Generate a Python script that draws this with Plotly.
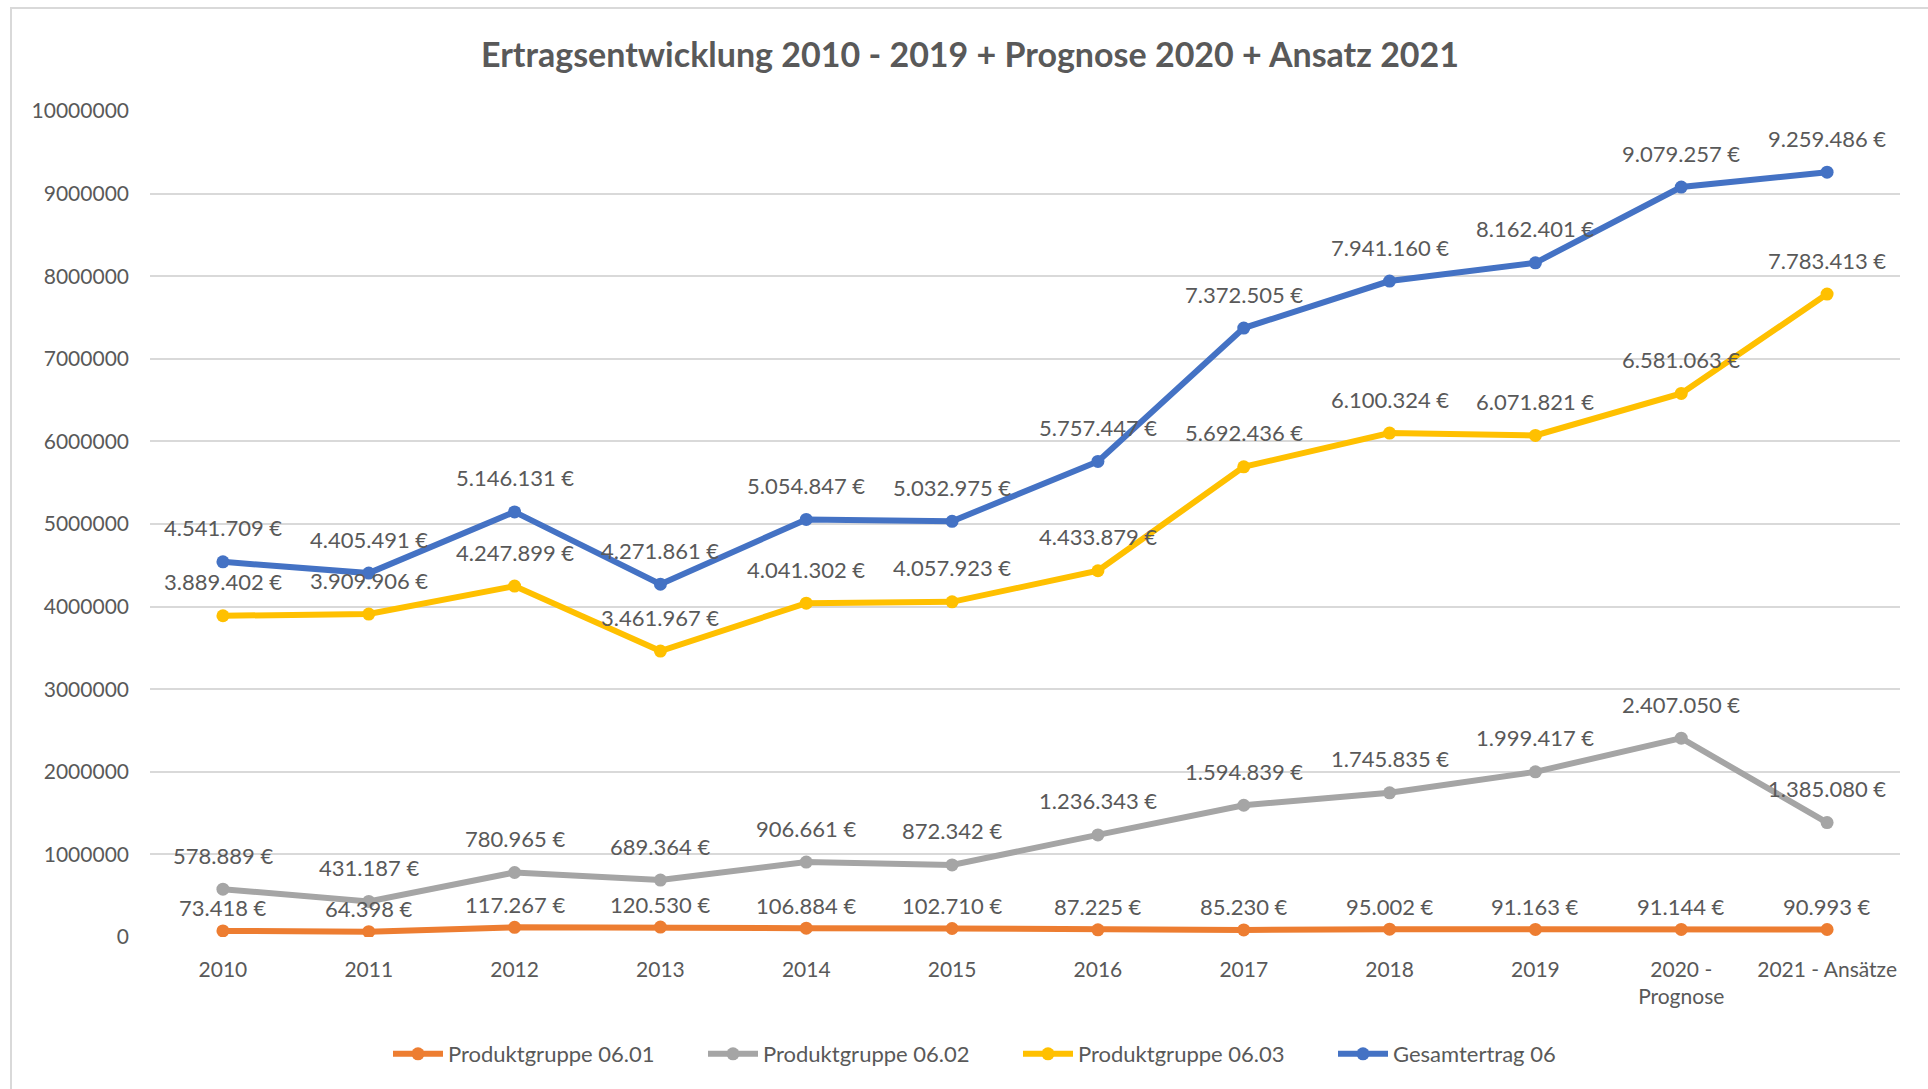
import plotly.graph_objects as go

categories = ["2010", "2011", "2012", "2013", "2014", "2015", "2016", "2017",
              "2018", "2019", "2020 -<br>Prognose", "2021 - Ansätze"]

pg_0601 = [73418, 64398, 117267, 120530, 106884, 102710, 87225, 85230,
           95002, 91163, 91144, 90993]
pg_0602 = [578889, 431187, 780965, 689364, 906661, 872342, 1236343, 1594839,
           1745835, 1999417, 2407050, 1385080]
pg_0603 = [3889402, 3909906, 4247899, 3461967, 4041302, 4057923, 4433879,
           5692436, 6100324, 6071821, 6581063, 7783413]
gesamt_06 = [4541709, 4405491, 5146131, 4271861, 5054847, 5032975, 5757447,
             7372505, 7941160, 8162401, 9079257, 9259486]

series_names = ["Produktgruppe 06.01", "Produktgruppe 06.02",
                "Produktgruppe 06.03", "Gesamtertrag 06"]
y_tick_values = [0, 1000000, 2000000, 3000000, 4000000, 5000000,
                 6000000, 7000000, 8000000, 9000000, 10000000]
y_tick_labels = [str(v) for v in y_tick_values]

title_text = "Ertragsentwicklung 2010 - 2019 + Prognose 2020 + Ansatz 2021"

colors = ["#ED7D31", "#A5A5A5", "#FFC000", "#4472C4"]
label_shift = [23, 34, 34, 34]

FONT = "Lato"
TEXT_COLOR = "#595959"

W, H = 1928, 1089
ML, MR, MT, MB = 150, 28, 111, 152
PW, PH = W - ML - MR, H - MT - MB


def fmt(v):
    return f"{v:,}".replace(",", ".") + " €"


fig = go.Figure()
all_series = [pg_0601, pg_0602, pg_0603, gesamt_06]
for name, vals, col in zip(series_names, all_series, colors):
    fig.add_trace(go.Scatter(
        x=categories, y=vals, name=name, mode="lines+markers",
        line=dict(color=col, width=6),
        marker=dict(color=col, size=13),
        hoverinfo="skip",
    ))

annotations = []
for vals, shift in zip(all_series, label_shift):
    for i, v in enumerate(vals):
        annotations.append(dict(
            x=i, y=v, xref="x", yref="y", text=fmt(v), showarrow=False,
            yshift=shift, font=dict(family=FONT, size=22, color=TEXT_COLOR),
        ))

fig.update_layout(
    width=W, height=H,
    margin=dict(l=ML, r=MR, t=MT, b=MB),
    paper_bgcolor="white", plot_bgcolor="white",
    title=dict(text=title_text, x=970 / W, xanchor="center",
               y=1 - 55 / H, yanchor="middle",
               font=dict(family=FONT, size=34, color=TEXT_COLOR, weight="bold")),
    xaxis=dict(type="category", categoryorder="array", categoryarray=categories,
               range=[-0.5, len(categories) - 0.5],
               showgrid=False, zeroline=False, showline=False,
               ticks="", tickfont=dict(family=FONT, size=21, color=TEXT_COLOR),
               ticklabelstandoff=18, fixedrange=True),
    yaxis=dict(range=[0, 10000000], tickvals=y_tick_values, ticktext=y_tick_labels,
               showgrid=True, gridcolor="#D9D9D9", gridwidth=1.5,
               zeroline=False, showline=False, ticks="",
               tickfont=dict(family=FONT, size=21, color=TEXT_COLOR),
               ticklabelstandoff=20, fixedrange=True),
    legend=dict(orientation="h", x=(388 - ML) / PW, xanchor="left",
                y=-(1054 - (MT + PH)) / PH, yanchor="middle",
                font=dict(family=FONT, size=22, color=TEXT_COLOR),
                itemwidth=50,
                entrywidth=250, entrywidthmode="pixels", traceorder="normal"),
    annotations=annotations,
    showlegend=True,
)

# chart area border (left and top edges visible)
fig.add_shape(type="rect", xref="paper", yref="paper",
              x0=(11 - ML) / PW, x1=(W + 20 - ML) / PW,
              y0=-(H + 20 - MT - PH) / PH, y1=(MT + PH - 8) / PH,
              line=dict(color="#D9D9D9", width=2), fillcolor="rgba(0,0,0,0)",
              layer="below")

fig.write_html("out.html")
